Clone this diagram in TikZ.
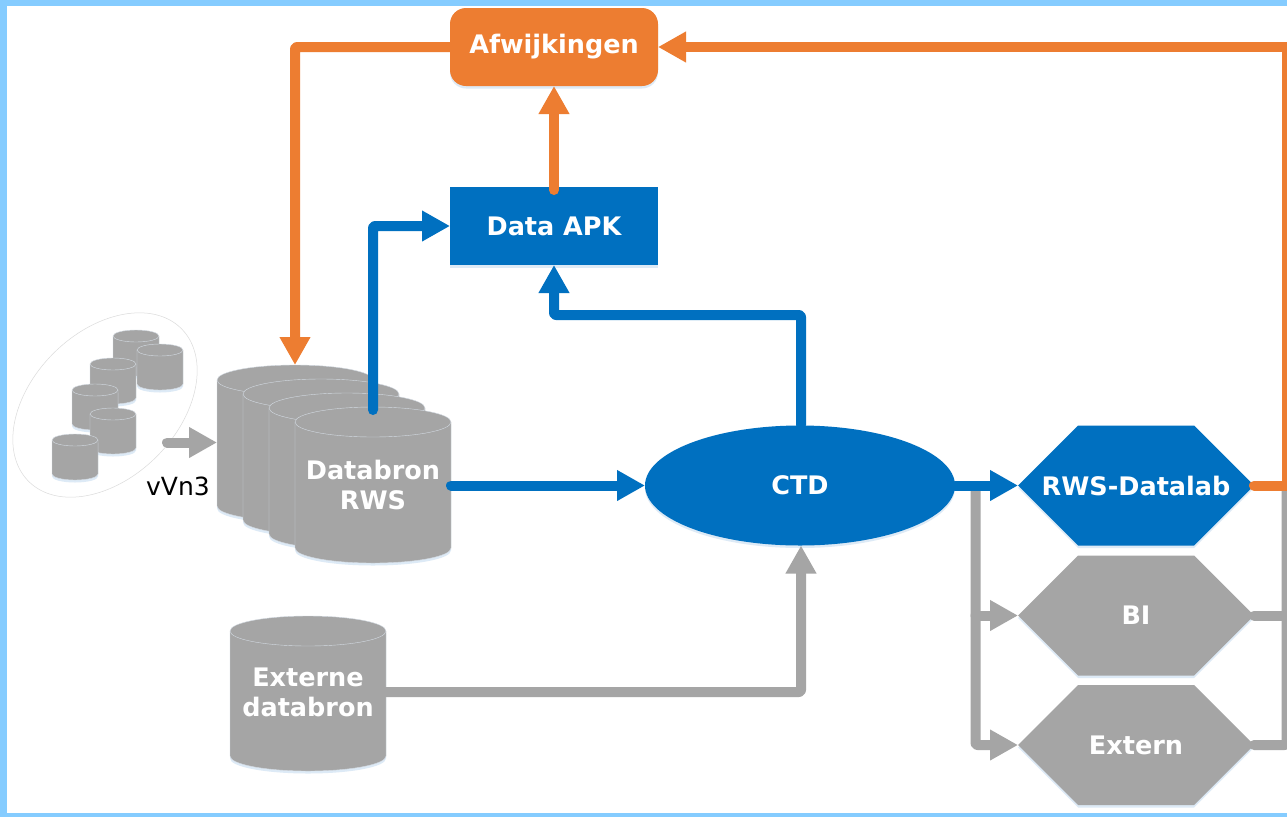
\documentclass[tikz,border=0pt]{standalone}
\usepackage{fontspec}
\setmainfont{DejaVu Sans}
\usetikzlibrary{arrows.meta,shapes.geometric}
\definecolor{frameblue}{HTML}{85CCFF}
\definecolor{rwsblue}{HTML}{0070C0}
\definecolor{rwsorange}{HTML}{ED7D31}
\definecolor{rwsgray}{HTML}{A5A5A5}
\definecolor{glow}{HTML}{DDEAF6}
\definecolor{rimline}{HTML}{D4DBE3}
\tikzset{
  x=1pt,y=-1pt,
  box/.style={inner sep=0pt,outer sep=0pt,text=white,align=center,font=\bfseries\fontsize{25.5}{30}\selectfont},
  conn/.style={line width=10pt,line cap=round,line join=round,rounded corners=2pt,-{Triangle[length=28pt,width=29pt]}},
  bar/.style={line width=10pt,line cap=round,line join=round,rounded corners=2pt},
  blueconn/.style={conn,draw=rwsblue},
  orangeconn/.style={conn,draw=rwsorange},
  grayconn/.style={conn,draw=rwsgray},
}
% name, left, top, width, height, ellipse y radius, text
\newcommand{\cylnode}[7]{%
  \fill[glow] (#2,#3+#6+2.5) arc[start angle=180,end angle=0,x radius=#4/2*1pt,y radius=#6*1pt]
     -- ++(0,#5-2*#6) arc[start angle=0,end angle=-180,x radius=#4/2*1pt,y radius=#6*1pt] -- cycle;
  \filldraw[fill=rwsgray,draw=rimline,line width=0.4pt] (#2,#3+#6) arc[start angle=180,end angle=0,x radius=#4/2*1pt,y radius=#6*1pt]
     -- ++(0,#5-2*#6) arc[start angle=0,end angle=-180,x radius=#4/2*1pt,y radius=#6*1pt] -- cycle;
  \draw[rimline,line width=0.4pt] (#2,#3+#6) arc[start angle=180,end angle=360,x radius=#4/2*1pt,y radius=#6*1pt];
  \node[box,minimum width=#4*1pt,minimum height=#5*1pt] (#1) at ({#2+#4/2},{#3+#5/2}) {#7};
}
% name, centre x, centre y, colour, text
\newcommand{\hexnode}[5]{%
  \fill[glow] (#2-118,#3+2.5) -- (#2-58,#3-57) -- (#2+58,#3-57) -- (#2+118,#3+2.5) -- (#2+58,#3+62.5) -- (#2-58,#3+62.5) -- cycle;
  \fill[#4] (#2-118,#3) -- (#2-58,#3-60) -- (#2+58,#3-60) -- (#2+118,#3) -- (#2+58,#3+60) -- (#2-58,#3+60) -- cycle;
  \node[box,minimum width=236pt,minimum height=120pt] (#1) at (#2,#3) {#5};
}
\begin{document}
\begin{tikzpicture}
\useasboundingbox (0,0) rectangle (1287,817);
\fill[frameblue] (0,0) rectangle (1287,817);
\fill[white] (7,6) rectangle (1287,813);

% group of small databases
\node[draw=black!14,line width=0.5pt,ellipse,minimum width=216pt,minimum height=146pt,inner sep=0pt,rotate=45] (group) at (105,405) {};
\cylnode{s1}{113}{330}{46}{46}{6}{}
\cylnode{s2}{90}{358}{46}{46}{6}{}
\cylnode{s3}{137}{344}{46}{46}{6}{}
\cylnode{s4}{72}{384}{46}{46}{6}{}
\cylnode{s5}{90}{408}{46}{46}{6}{}
\cylnode{s6}{52}{434}{46}{46}{6}{}

% stacked sources
\cylnode{d1}{217}{365}{156}{156}{15}{}
\cylnode{d2}{243}{379}{156}{156}{15}{}
\cylnode{d3}{269}{393}{156}{156}{15}{}
\cylnode{d4}{295}{407}{156}{156}{15}{Databron\\RWS}
\cylnode{ext}{230}{616}{156}{155}{15}{}
\node[box] (exttext) at (308,692) {Externe\\databron};

% main nodes
\fill[glow,rounded corners=16pt] (450,11) rectangle (658,88.5);
\node[box,fill=rwsorange,rounded corners=16pt,minimum width=208pt,minimum height=78pt] (afw) at (554,47) {Afwijkingen};
\fill[glow] (450,190) rectangle (658,267.5);
\node[box,fill=rwsblue,minimum width=208pt,minimum height=78pt] (apk) at (554,226) {Data APK};
\fill[glow] (800,488) ellipse[x radius=155pt,y radius=60pt];
\node[box,fill=rwsblue,ellipse,minimum width=310pt,minimum height=120pt] (ctd) at (800,485.5) {CTD};
\hexnode{lab}{1136}{485.5}{rwsblue}{RWS-Datalab}
\hexnode{bi}{1136}{615.5}{rwsgray}{BI}
\hexnode{extern}{1136}{745}{rwsgray}{Extern}

\node[font=\fontsize{25}{30}\selectfont,text=black,inner sep=0pt] (vvn) at (178,486) {vVn3};

% helper coordinates
\coordinate (rail) at (1287,47);
\coordinate (railtop) at (1286.5,490);
\coordinate (railbi) at (1286.5,615.5);
\coordinate (railext) at (1286.5,745);
\coordinate (raillab) at (1287,485.5);
\coordinate (d4top) at (373,410);
\coordinate (d4mid) at (373,226);
\coordinate (d4side) at (451,485.5);
\coordinate (apkfoot) at (554,190);
\coordinate (ctdtop) at (801,425);
\coordinate (apkbend) at (554,315);
\coordinate (ctdbend) at (801,315);
\coordinate (ctdright) at (955,485.5);
\coordinate (busfoot) at (975.5,745);
\coordinate (bustop) at (975.5,486);
\coordinate (busmid) at (975.5,615.5);
\coordinate (vstart) at (167,442.5);
\coordinate (vend) at (217,442.5);
\coordinate (extout) at (386,692);
\coordinate (extbend) at (801,692);
\coordinate (afwbend) at (295,47);

% gray connectors
\draw[grayconn] (vstart) -- (vend);
\draw[grayconn] (extout) -- (extbend) -- (ctd.south -| ctdtop);
\draw[bar,draw=rwsgray] (bi.east) -- (railbi);
\draw[bar,draw=rwsgray] (extern.east) -- (railext) -- (railtop);
\draw[grayconn] (busmid) -- (bi.west);
\draw[grayconn] (bustop) -- (busfoot) -- (extern.west);

% blue connectors
\draw[blueconn] (d4top) -- (d4mid) -- (apk.west);
\draw[blueconn] (ctdtop) -- (ctdbend) -- (apkbend) -- (apk.south);
\draw[blueconn] (d4side) -- (ctd.west);
\draw[blueconn] (ctdright) -- (lab.west);

% orange connectors
\draw[orangeconn] (afw.west) -- (afwbend) -- (d1.north);
\draw[orangeconn] (apkfoot) -- (afw.south);
\draw[orangeconn,rounded corners=0pt] (lab.east) -- (raillab) -- (rail) -- (afw.east);
\end{tikzpicture}
\end{document}
